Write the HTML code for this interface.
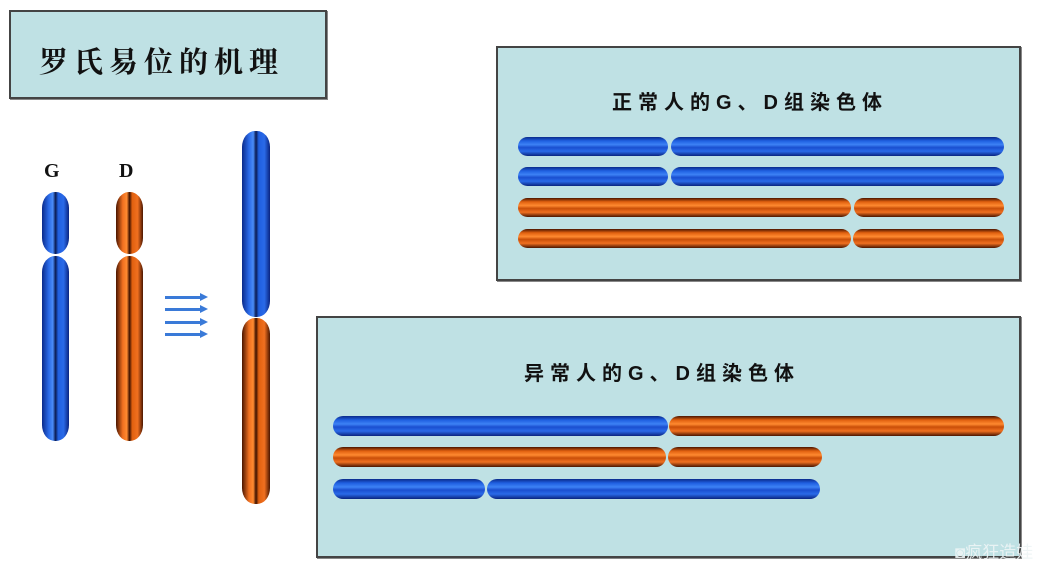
<!DOCTYPE html>
<html><head><meta charset="utf-8"><style>
body{margin:0;width:1049px;height:565px;background:#fff;position:relative;overflow:hidden;font-family:"Liberation Sans","Noto Sans CJK SC",sans-serif}
.box{position:absolute;background:#bfe1e4;border:2px solid #444;box-sizing:border-box;box-shadow:1px 1px 0 #888}
.t{position:absolute;font-weight:bold;color:#111;white-space:nowrap}
.h{position:absolute;border-radius:10px/10px;box-sizing:border-box}
.hb{background:linear-gradient(to bottom,#0a2a8a 0%,#1f5fe0 20%,#3d82f5 40%,#1a4fd0 55%,#2a6ae8 75%,#0a2480 100%);}
.ho{background:linear-gradient(to bottom,#4a1500 0%,#e0600f 20%,#ff8a30 40%,#c94e08 55%,#f07020 75%,#4a1500 100%);}
.v{position:absolute;border-radius:13px/16px;box-sizing:border-box}
.vb{background:linear-gradient(to right,#0a2a8a 0%,#2a6ae8 25%,#4a8cf7 40%,#0a1a50 50%,#1f5fe0 60%,#2a6ae8 80%,#0a2480 100%);}
.vo{background:linear-gradient(to right,#4a1500 0%,#f07020 25%,#ff8a30 40%,#3a1000 50%,#e0600f 60%,#f07020 80%,#4a1500 100%);}
.ar{position:absolute;height:3px;background:#3a7ad8;width:36px;left:165px}
.ar:after{content:"";position:absolute;right:-7px;top:-3px;border-left:8px solid #3a7ad8;border-top:4.5px solid transparent;border-bottom:4.5px solid transparent}
.sub{font-size:20px;letter-spacing:6px}
</style></head><body>
<div class="box" style="left:9px;top:10px;width:318px;height:89px"></div>
<div class="t" style="left:39px;top:40px;font-size:29px;letter-spacing:6px;font-family:'Noto Serif CJK SC','Noto Sans CJK SC',serif">罗氏易位的机理</div>

<div class="t" style="left:44px;top:160px;font-size:20px;font-family:'Liberation Serif',serif">G</div>
<div class="t" style="left:119px;top:160px;font-size:20px;font-family:'Liberation Serif',serif">D</div>
<div class="v vb" style="left:42px;top:192px;width:27px;height:62px"></div>
<div class="v vb" style="left:42px;top:256px;width:27px;height:185px"></div>
<div class="v vo" style="left:116px;top:192px;width:27px;height:62px"></div>
<div class="v vo" style="left:116px;top:256px;width:27px;height:185px"></div>
<div class="ar" style="top:296px"></div>
<div class="ar" style="top:308px"></div>
<div class="ar" style="top:321px"></div>
<div class="ar" style="top:333px"></div>
<div class="v vb" style="left:242px;top:131px;width:28px;height:186px"></div>
<div class="v vo" style="left:242px;top:318px;width:28px;height:186px"></div>

<div class="box" style="left:496px;top:46px;width:525px;height:235px"></div>
<div class="t sub" style="left:612px;top:86px">正常人的G、D组染色体</div>
<div class="h hb" style="left:518px;top:137px;width:150px;height:19px"></div>
<div class="h hb" style="left:671px;top:137px;width:333px;height:19px"></div>
<div class="h hb" style="left:518px;top:167px;width:150px;height:19px"></div>
<div class="h hb" style="left:671px;top:167px;width:333px;height:19px"></div>
<div class="h ho" style="left:518px;top:198px;width:333px;height:19px"></div>
<div class="h ho" style="left:854px;top:198px;width:150px;height:19px"></div>
<div class="h ho" style="left:518px;top:229px;width:333px;height:19px"></div>
<div class="h ho" style="left:853px;top:229px;width:151px;height:19px"></div>

<div class="box" style="left:316px;top:316px;width:705px;height:242px"></div>
<div class="t sub" style="left:524px;top:357px">异常人的G、D组染色体</div>
<div class="h hb" style="left:333px;top:416px;width:335px;height:20px"></div>
<div class="h ho" style="left:669px;top:416px;width:335px;height:20px"></div>
<div class="h ho" style="left:333px;top:447px;width:333px;height:20px"></div>
<div class="h ho" style="left:668px;top:447px;width:154px;height:20px"></div>
<div class="h hb" style="left:333px;top:479px;width:152px;height:20px"></div>
<div class="h hb" style="left:487px;top:479px;width:333px;height:20px"></div>

<div class="t" style="left:955px;top:538px;font-size:17px;color:#eef5f6;font-weight:normal;opacity:.9">◙疯狂造娃</div>
</body></html>
